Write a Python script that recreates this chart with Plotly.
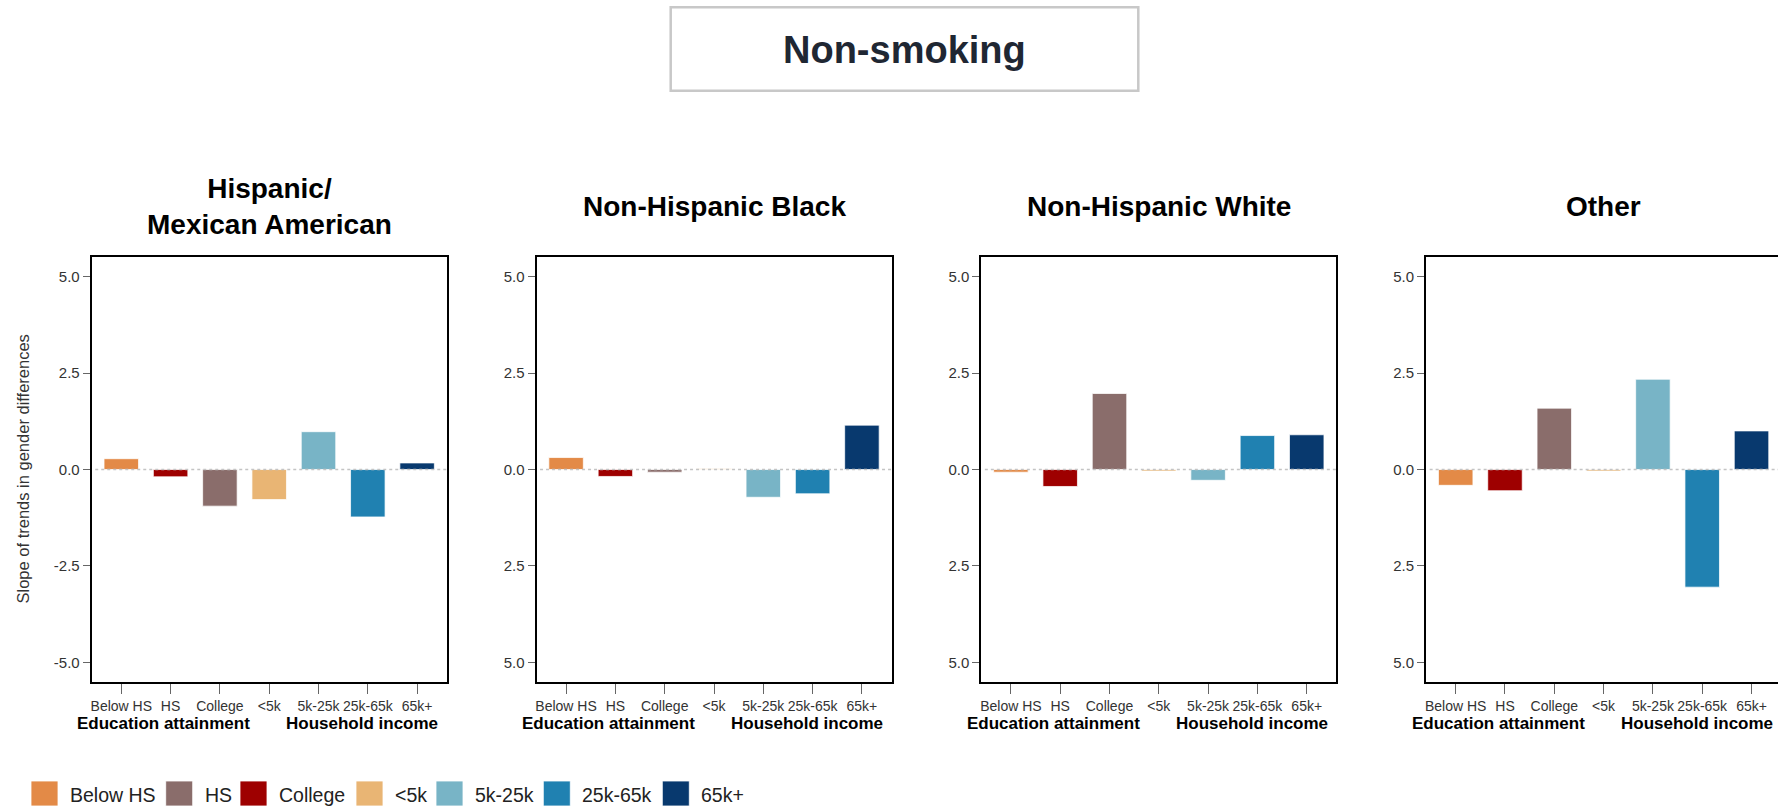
import plotly.graph_objects as go

# ---- data -------------------------------------------------------------
categories = ["Below HS", "HS", "College", "<5k", "5k-25k", "25k-65k", "65k+"]
groups = ["Hispanic/<br>Mexican American", "Non-Hispanic Black",
          "Non-Hispanic White", "Other"]

hispanic = [0.28, -0.19, -0.95, -0.78, 0.98, -1.23, 0.17]
nh_black = [0.31, -0.18, -0.07, 0.02, -0.72, -0.63, 1.15]
nh_white = [-0.07, -0.44, 1.97, -0.04, -0.28, 0.88, 0.90]
other = [-0.41, -0.55, 1.59, -0.04, 2.34, -3.05, 1.00]
panel_values = [hispanic, nh_black, nh_white, other]

y_tickvals = [-5, -2.5, 0, 2.5, 5]
y_ticktext_first = ["-5.0", "-2.5", "0.0", "2.5", "5.0"]
y_ticktext_rest = ["5.0", "2.5", "0.0", "2.5", "5.0"]

legend_labels = ["Below HS", "HS", "College", "<5k", "5k-25k", "25k-65k", "65k+"]

# ---- palette ----------------------------------------------------------
ORANGE = "#E38A47"
BROWN = "#8A6D6B"
RED = "#9E0000"
LT_ORANGE = "#E9B574"
LT_BLUE = "#78B4C6"
BLUE = "#2081B1"
NAVY = "#08396E"

bar_colors = [ORANGE, RED, BROWN, LT_ORANGE, LT_BLUE, BLUE, NAVY]
legend_colors = [ORANGE, BROWN, RED, LT_ORANGE, LT_BLUE, BLUE, NAVY]

FONT = "Liberation Sans, Arial, sans-serif"
W, H = 1778, 808


def px_x(v):
    return v / W


def px_y(v):
    return 1 - v / H


fig = go.Figure()

panel_left = [91.7, 536.5, 981.3, 1426.1]
panel_w = 355.0
units_per_px = 7.2 / panel_w
y_dom = [px_y(681.7), px_y(257.3)]

annotations = []
shapes = []

for i, (vals, name) in enumerate(zip(panel_values, groups)):
    n = i + 1
    xa = "x" if n == 1 else f"x{n}"
    ya = "y" if n == 1 else f"y{n}"
    left = panel_left[i]
    right = min(left + panel_w, W)
    x_hi = -0.6 + (right - left) * units_per_px

    fig.add_trace(go.Bar(
        x=categories, y=vals, xaxis=xa, yaxis=ya,
        marker=dict(color=bar_colors,
                    line=dict(color="rgba(255,255,255,0.75)", width=1)),
        width=0.7, showlegend=False, hoverinfo="x+y",
    ))

    last = (i == len(groups) - 1)
    fig.update_layout({
        f"xaxis{'' if n == 1 else n}": dict(
            domain=[px_x(left), px_x(right)], anchor=ya,
            type="category", categoryorder="array", categoryarray=categories,
            range=[-0.6, x_hi], showgrid=False, zeroline=False,
            showline=True, linecolor="black", linewidth=2, mirror=True,
            ticks="outside", ticklen=10, tickwidth=1.3, tickcolor="#666666",
            tickfont=dict(family=FONT, size=14, color="#333333"),
            fixedrange=True,
        ),
        f"yaxis{'' if n == 1 else n}": dict(
            domain=y_dom, anchor=xa, range=[-5.5, 5.5],
            showgrid=False, zeroline=False,
            showline=True, linecolor="black", linewidth=2,
            mirror=(not last),
            tickvals=y_tickvals,
            ticktext=y_ticktext_first if i == 0 else y_ticktext_rest,
            ticks="outside", ticklen=7, tickwidth=1.3, tickcolor="#666666",
            tickfont=dict(family=FONT, size=15, color="#333333"),
            fixedrange=True,
        ),
    })

    # dotted reference line at zero
    shapes.append(dict(
        type="line", xref=f"{xa} domain", yref=ya, x0=0.01, x1=1, y0=0, y1=0,
        line=dict(color="#C4C4C4", width=1.3, dash="dot"), layer="above",
    ))

    # panel title
    annotations.append(dict(
        text=f"<b>{name}</b>", xref=f"{xa} domain", yref="paper",
        x=0.5 if not last else (1603.6 - left) / (right - left),
        y=px_y(206), xanchor="center", yanchor="middle", showarrow=False,
        font=dict(family=FONT, size=28, color="black"),
    ))

    # group labels under the category ticks
    for gx, gtext in [(0.862, "Education attainment"), (4.886, "Household income")]:
        annotations.append(dict(
            text=f"<b>{gtext}</b>", xref=xa, yref="paper", x=gx, y=px_y(723),
            xanchor="center", yanchor="middle", showarrow=False,
            font=dict(family=FONT, size=17, color="black"),
        ))

# y-axis title
annotations.append(dict(
    text="Slope of trends in gender differences", xref="paper", yref="paper",
    x=px_x(22.5), y=px_y(469), textangle=-90, showarrow=False,
    xanchor="center", yanchor="middle",
    font=dict(family=FONT, size=16.5, color="#333333"),
))

# main title in a framed box
shapes.append(dict(
    type="rect", xref="paper", yref="paper",
    x0=px_x(670.7), x1=px_x(1138.3), y0=px_y(90.7), y1=px_y(7.3),
    line=dict(color="#C8C8C8", width=2.5), fillcolor="white", layer="below",
))
annotations.append(dict(
    text="<b>Non-smoking</b>", xref="paper", yref="paper",
    x=px_x(904.5), y=px_y(50), xanchor="center", yanchor="middle",
    showarrow=False, font=dict(family=FONT, size=38, color="#1F2733"),
))

# legend row along the bottom
swatch_x = [31, 165.7, 240, 356, 436, 543.3, 662.3]
for sx, lab, col in zip(swatch_x, legend_labels, legend_colors):
    shapes.append(dict(
        type="rect", xref="paper", yref="paper",
        x0=px_x(sx), x1=px_x(sx + 27), y0=px_y(806), y1=px_y(781),
        line=dict(color="rgba(255,255,255,0.8)", width=1), fillcolor=col,
    ))
    annotations.append(dict(
        text=lab, xref="paper", yref="paper", x=px_x(sx + 37), y=px_y(795),
        xanchor="left", yanchor="middle", showarrow=False,
        font=dict(family=FONT, size=19.5, color="#222222"),
    ))

fig.update_layout(
    width=W, height=H, margin=dict(l=0, r=0, t=0, b=0),
    paper_bgcolor="white", plot_bgcolor="white",
    bargap=0.3, showlegend=False,
    annotations=annotations, shapes=shapes,
    font=dict(family=FONT),
)

fig.write_html("out.html", config={"displayModeBar": False})
